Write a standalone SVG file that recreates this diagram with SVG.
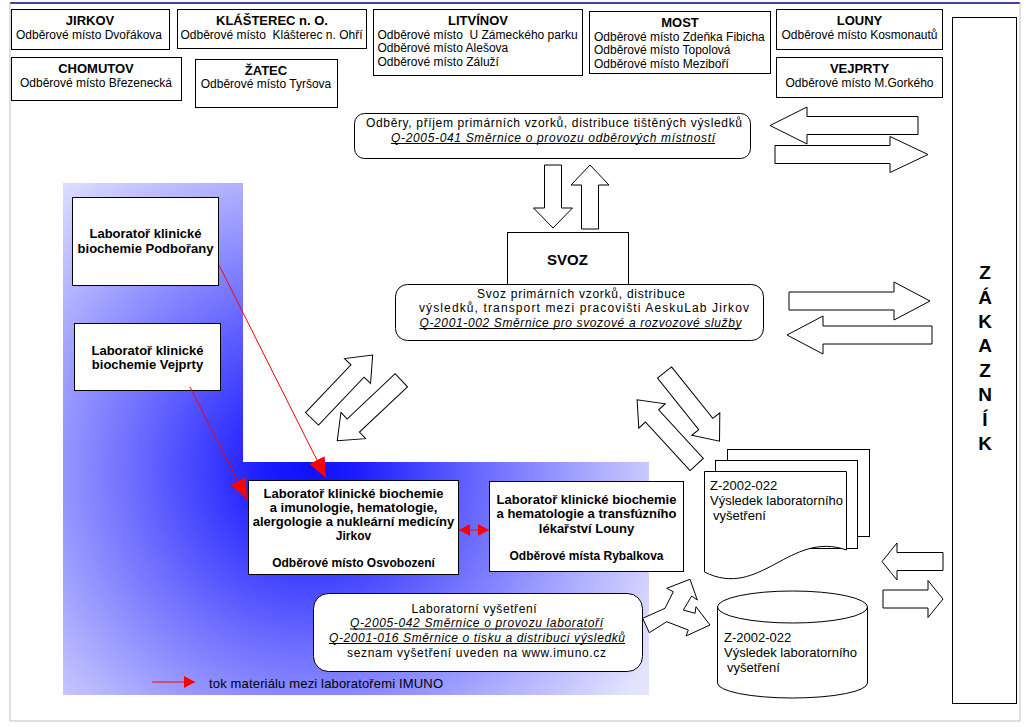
<svg xmlns="http://www.w3.org/2000/svg" width="1026" height="727" viewBox="0 0 1026 727">
<style>
text{font-family:"Liberation Sans",Arial,sans-serif;fill:#000}
.t{font-size:13px;font-weight:bold;text-anchor:middle}
.s{font-size:12px}
.sc{font-size:12px;text-anchor:middle}
.q{font-size:12px;text-anchor:middle;font-style:italic}
.ul{stroke:#000;stroke-width:1}
.lb{font-size:13px;font-weight:bold;text-anchor:middle}
.ls{font-size:12px;font-weight:bold;text-anchor:middle}
.d{font-size:13px}
.box{fill:#fff;stroke:#000;stroke-width:1}
.ar{fill:#fff;stroke:#000;stroke-width:1;stroke-linejoin:miter}
.red{stroke:#ff0000;stroke-width:1;fill:none}
.z{font-size:19px;font-weight:bold;text-anchor:middle}
</style>
<defs>
<radialGradient id="blu" gradientUnits="userSpaceOnUse" cx="310" cy="470" r="390">
<stop offset="0" stop-color="#1010ff"/>
<stop offset="0.12" stop-color="#1c1cff"/>
<stop offset="0.45" stop-color="#6c6cff"/>
<stop offset="0.75" stop-color="#b0b0ff"/>
<stop offset="1" stop-color="#e4e4ff"/>
</radialGradient>
<marker id="rh" markerUnits="userSpaceOnUse" markerWidth="22" markerHeight="18" refX="20" refY="8.5" orient="auto">
<path d="M0,0 L20,8.5 L0,17 Z" fill="#ff0000"/>
</marker>
<marker id="rs" markerUnits="userSpaceOnUse" markerWidth="12" markerHeight="13" refX="11" refY="6" orient="auto-start-reverse">
<path d="M0,0 L11,6 L0,12 Z" fill="#ff0000"/>
</marker>
<path id="diag" d="M0,-9 H66 V-18 L88,0 L66,18 V9 H0 Z"/>
</defs>

<!-- frame -->
<g id="frame">
<line x1="10" y1="3" x2="1020" y2="3" stroke="#000080" stroke-width="1.5"/>
<line x1="10" y1="3" x2="10" y2="721" stroke="#c0c0c0" stroke-width="1"/>
<line x1="10" y1="721" x2="1020" y2="721" stroke="#c0c0c0" stroke-width="1"/>
<line x1="1020" y1="3" x2="1020" y2="721" stroke="#c0c0c0" stroke-width="1"/>
</g>

<!-- blue background area -->
<path id="imuno-area" d="M63,183 H243 V462 H649 V695 H63 Z" fill="url(#blu)"/>

<!-- top collection points -->
<g id="jirkov">
<rect class="box" x="11.5" y="9.5" width="158" height="40"/>
<text class="t" x="90" y="25">JIRKOV</text>
<text class="sc" x="89" y="38.5">Odběrové místo Dvořákova</text>
</g>
<g id="klasterec">
<rect class="box" x="177.5" y="9.5" width="189" height="39"/>
<text class="t" x="272" y="25">KLÁŠTEREC n. O.</text>
<text class="sc" x="271.5" y="38.5">Odběrové místo&#160; Klášterec n. Ohří</text>
</g>
<g id="chomutov">
<rect class="box" x="11.5" y="57.5" width="170" height="43"/>
<text class="t" x="96" y="73">CHOMUTOV</text>
<text class="sc" x="96" y="87">Odběrové místo Březenecká</text>
</g>
<g id="zatec">
<rect class="box" x="195.5" y="59.5" width="142" height="48"/>
<text class="t" x="266" y="74.5">ŽATEC</text>
<text class="sc" x="266" y="88">Odběrové místo Tyršova</text>
</g>
<g id="litvinov">
<rect class="box" x="373.5" y="9.5" width="209" height="66"/>
<text class="t" x="478" y="25">LITVÍNOV</text>
<text class="s" x="377.5" y="38.5">Odběrové místo&#160; U Zámeckého parku</text>
<text class="s" x="377.5" y="52">Odběrové místo Alešova</text>
<text class="s" x="377.5" y="65.5">Odběrové místo Záluží</text>
</g>
<g id="most">
<rect class="box" x="589.5" y="11.5" width="181" height="62"/>
<text class="t" x="680" y="26.5">MOST</text>
<text class="s" x="594" y="40.5">Odběrové místo Zdeňka Fibicha</text>
<text class="s" x="594" y="54">Odběrové místo Topolová</text>
<text class="s" x="594" y="67.5">Odběrové místo Meziboří</text>
</g>
<g id="louny">
<rect class="box" x="776.5" y="9.5" width="166" height="40"/>
<text class="t" x="859.5" y="25">LOUNY</text>
<text class="sc" x="859.5" y="38.5">Odběrové místo Kosmonautů</text>
</g>
<g id="vejprty">
<rect class="box" x="776.5" y="57.5" width="166" height="40"/>
<text class="t" x="859.5" y="73">VEJPRTY</text>
<text class="sc" x="859.5" y="87">Odběrové místo M.Gorkého</text>
</g>

<!-- customer -->
<g id="zakaznik">
<rect class="box" x="952.5" y="17.5" width="64" height="686"/>
<text class="z" x="985" y="279">Z</text>
<text class="z" x="985" y="303.5">Á</text>
<text class="z" x="985" y="328">K</text>
<text class="z" x="985" y="352">A</text>
<text class="z" x="985" y="376.5">Z</text>
<text class="z" x="985" y="401">N</text>
<text class="z" x="985" y="425.5">Í</text>
<text class="z" x="985" y="450">K</text>
</g>

<!-- odbery -->
<g id="odbery">
<rect class="box" x="354.5" y="113.5" width="396" height="45" rx="10"/>
<text class="sc" x="554" y="127" textLength="376" lengthAdjust="spacing">Odběry, příjem primárních vzorků, distribuce tištěných výsledků</text>
<text class="q" x="553" y="141.5" textLength="324" lengthAdjust="spacing">Q-2005-041 Směrnice o provozu odběrových místností</text>
<line class="ul" x1="391" y1="143.5" x2="715" y2="143.5"/>
</g>

<!-- svoz -->
<g id="svoz">
<rect class="box" x="507.5" y="232.5" width="121" height="52"/>
<text x="567.5" y="264.5" style="font-size:15px;font-weight:bold;text-anchor:middle">SVOZ</text>
</g>
<g id="svoz-detail">
<rect class="box" x="395.5" y="284.5" width="368" height="56" rx="12"/>
<text class="sc" x="581" y="297.5" textLength="208" lengthAdjust="spacing">Svoz primárních vzorků, distribuce</text>
<text class="sc" x="584" y="312" textLength="330" lengthAdjust="spacing">výsledků, transport mezi pracovišti AeskuLab Jirkov</text>
<text class="q" x="580.5" y="326.5" textLength="322" lengthAdjust="spacing">Q-2001-002 Směrnice pro svozové a rozvozové služby</text>
<line class="ul" x1="419.5" y1="328.5" x2="741.5" y2="328.5"/>
</g>

<!-- labs -->
<g id="lab-podborany">
<rect class="box" x="72.5" y="197.5" width="146" height="88"/>
<text class="lb" x="145.5" y="237.5">Laboratoř klinické</text>
<text class="lb" x="145.5" y="253">biochemie Podbořany</text>
</g>
<g id="lab-vejprty">
<rect class="box" x="74.5" y="323.5" width="146" height="67"/>
<text class="lb" x="147.5" y="354.5">Laboratoř klinické</text>
<text class="lb" x="147.5" y="369">biochemie Vejprty</text>
</g>
<g id="lab-jirkov">
<rect class="box" x="248.5" y="480.5" width="210" height="94"/>
<text class="lb" x="353.5" y="497.5">Laboratoř klinické biochemie</text>
<text class="lb" x="353.5" y="511.5">a imunologie, hematologie,</text>
<text class="lb" x="353.5" y="526">alergologie a nukleární medicíny</text>
<text class="ls" x="353.5" y="539.5">Jirkov</text>
<text class="ls" x="353.5" y="566.5">Odběrové místo Osvobození</text>
</g>
<g id="lab-louny">
<rect class="box" x="489.5" y="481.5" width="194" height="90"/>
<text class="lb" x="586.5" y="503.5">Laboratoř klinické biochemie</text>
<text class="lb" x="586.5" y="518">a hematologie a transfúzního</text>
<text class="lb" x="586.5" y="532.5">lékařství Louny</text>
<text class="ls" x="586.5" y="560">Odběrové místa Rybalkova</text>
</g>
<g id="lab-vysetreni">
<rect class="box" x="313.5" y="593.5" width="329" height="78" rx="15"/>
<text class="sc" x="474" y="612.5" textLength="125" lengthAdjust="spacing">Laboratorní vyšetření</text>
<text class="q" x="476.5" y="627" textLength="253" lengthAdjust="spacing">Q-2005-042 Směrnice o provozu laboratoří</text>
<line class="ul" x1="350" y1="629" x2="603" y2="629"/>
<text class="q" x="477" y="641.5" textLength="296" lengthAdjust="spacing">Q-2001-016 Směrnice o tisku a distribuci výsledků</text>
<line class="ul" x1="329" y1="643.5" x2="625" y2="643.5"/>
<text class="sc" x="476.5" y="656.5" textLength="259" lengthAdjust="spacing">seznam vyšetření uveden na www.imuno.cz</text>
</g>

<!-- result documents -->
<g id="vysledek-doc">
<rect class="box" x="727.5" y="449.5" width="142" height="87"/>
<rect class="box" x="715.5" y="460.5" width="142" height="88"/>
<path class="box" d="M704.5,471.5 H846.5 V550 C790,530 760,600 704.5,572 Z"/>
<text class="d" x="710" y="490">Z-2002-022</text>
<text class="d" x="710" y="505">Výsledek laboratorního</text>
<text class="d" x="713" y="519.5">vyšetření</text>
</g>
<g id="vysledek-db">
<path class="box" d="M717.5,607 V683 A75,15 0 0 0 867.5,683 V607 A75,16 0 0 0 717.5,607 Z"/>
<path d="M717.5,607 A75,16 0 0 0 867.5,607" fill="none" stroke="#000" stroke-width="1"/>
<text class="d" x="724" y="642">Z-2002-022</text>
<text class="d" x="724" y="657">Výsledek laboratorního</text>
<text class="d" x="727" y="672">vyšetření</text>
</g>

<!-- connectors -->
<g id="connectors">
<polygon class="ar" points="770,125.5 807,107 807,116.5 918,116.5 918,134.5 807,134.5 807,144"/>
<polygon class="ar" points="775,145.5 890,145.5 890,136.5 928,154.5 890,172.5 890,163.5 775,163.5"/>
<polygon class="ar" points="544.5,165 561.5,165 561.5,208 572.5,208 553,228 533.5,208 544.5,208"/>
<polygon class="ar" points="581.5,229 581.5,185 571,185 590,165 609,185 598.5,185 598.5,229"/>
<polygon class="ar" points="789,292 894,292 894,282 930,301 894,320 894,310 789,310"/>
<polygon class="ar" points="787,335 823,316 823,326 932,326 932,344 823,344 823,354"/>
<polygon class="ar" points="882,561.5 897,543 897,552.5 943,552.5 943,570.5 897,570.5 897,580"/>
<polygon class="ar" points="883,590 928,590 928,580.5 943,599 928,617.5 928,608 883,608"/>
<use href="#diag" class="ar" transform="translate(312,418.8) rotate(-46.4)"/>
<use href="#diag" class="ar" transform="translate(401.3,380.3) rotate(136.7)"/>
<use href="#diag" class="ar" transform="translate(664.5,372.5) rotate(51.3)"/>
<use href="#diag" class="ar" transform="translate(696.7,464.5) rotate(-132.6)"/>
<polygon class="ar" points="642.7,618.3 665,608.3 673.3,591.7 666.7,588.3 690,579.3 697.3,600 691.7,596 683.3,610 695,613.3 696,606.7 710,625 686,636 688.3,630 666.7,621.7 649.3,632.7"/>
<line class="red" x1="219" y1="265" x2="326" y2="478" marker-end="url(#rh)"/>
<line class="red" x1="190" y1="387" x2="247" y2="499" marker-end="url(#rh)"/>
<line class="red" x1="459" y1="530" x2="489" y2="530" marker-start="url(#rs)" marker-end="url(#rs)"/>
</g>

<!-- legend -->
<g id="legend">
<line class="red" x1="152" y1="682" x2="195" y2="682" marker-end="url(#rs)"/>
<text x="209" y="687.5" style="font-size:13px" textLength="234" lengthAdjust="spacing">tok materiálu mezi laboratořemi IMUNO</text>
</g>
</svg>
